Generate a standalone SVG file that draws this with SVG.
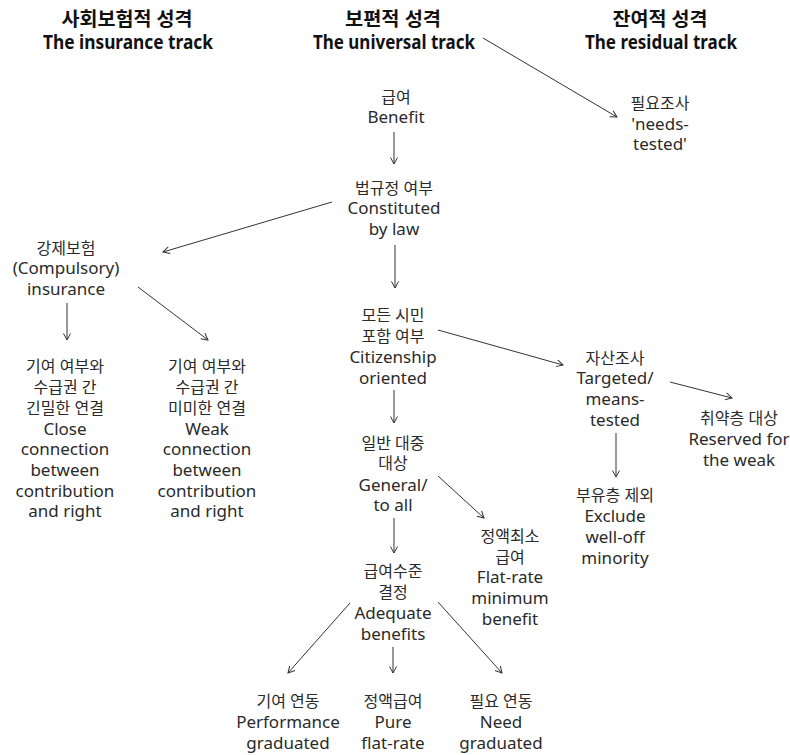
<svg xmlns="http://www.w3.org/2000/svg" width="790" height="755" viewBox="0 0 790 755">
<defs>
<marker id="ah" markerWidth="10" markerHeight="10" refX="7" refY="4" orient="auto" markerUnits="userSpaceOnUse">
<path d="M0.5,0.5 L7,4 L0.5,7.5" fill="none" stroke="#333" stroke-width="1"/>
</marker>
<style>
text{font-family:"Noto Sans","Noto Sans CJK KR",sans-serif;font-size:17px;fill:#2a2a2a;text-anchor:middle}
.k{font-size:16px}
.h{font-family:"Noto Sans","Noto Sans CJK KR",sans-serif;font-weight:bold;font-size:19px;fill:#111}
.c line{stroke:#333;stroke-width:1;marker-end:url(#ah)}
</style>
</defs>
<rect width="790" height="755" fill="#fff"/>
<g id="headers">
<text class="h" x="127" y="26" textLength="131" lengthAdjust="spacingAndGlyphs">사회보험적 성격</text>
<text class="h" x="128" y="49" textLength="170" lengthAdjust="spacingAndGlyphs">The insurance track</text>
<text class="h" x="393" y="26" textLength="96" lengthAdjust="spacingAndGlyphs">보편적 성격</text>
<text class="h" x="394" y="49" textLength="162" lengthAdjust="spacingAndGlyphs">The universal track</text>
<text class="h" x="660" y="26" textLength="95" lengthAdjust="spacingAndGlyphs">잔여적 성격</text>
<text class="h" x="661" y="49" textLength="152" lengthAdjust="spacingAndGlyphs">The residual track</text>
</g>
<g id="n-needs"><text x="660"><tspan class="k" x="660" y="109">필요조사</tspan><tspan x="660" y="130">'needs-</tspan><tspan x="660" y="150">tested'</tspan></text></g>
<g id="n-benefit"><text x="396"><tspan class="k" x="396" y="103">급여</tspan><tspan x="396" y="123">Benefit</tspan></text></g>
<g id="n-law"><text x="394"><tspan class="k" x="394" y="194">법규정 여부</tspan><tspan x="394" y="214">Constituted</tspan><tspan x="394" y="235">by law</tspan></text></g>
<g id="n-compulsory"><text x="66"><tspan class="k" x="66" y="254">강제보험</tspan><tspan x="66" y="274">(Compulsory)</tspan><tspan x="66" y="295">insurance</tspan></text></g>
<g id="n-close"><text x="65"><tspan class="k" x="65" y="372">기여 여부와</tspan><tspan class="k" x="65" y="393">수급권 간</tspan><tspan class="k" x="65" y="414">긴밀한 연결</tspan><tspan x="65" y="435">Close</tspan><tspan x="65" y="455">connection</tspan><tspan x="65" y="476">between</tspan><tspan x="65" y="497">contribution</tspan><tspan x="65" y="517">and right</tspan></text></g>
<g id="n-weak"><text x="207"><tspan class="k" x="207" y="372">기여 여부와</tspan><tspan class="k" x="207" y="393">수급권 간</tspan><tspan class="k" x="207" y="414">미미한 연결</tspan><tspan x="207" y="435">Weak</tspan><tspan x="207" y="455">connection</tspan><tspan x="207" y="476">between</tspan><tspan x="207" y="497">contribution</tspan><tspan x="207" y="517">and right</tspan></text></g>
<g id="n-citizen"><text x="393"><tspan class="k" x="393" y="321">모든 시민</tspan><tspan class="k" x="393" y="342">포함 여부</tspan><tspan x="393" y="363">Citizenship</tspan><tspan x="393" y="384">oriented</tspan></text></g>
<g id="n-general"><text x="393"><tspan class="k" x="393" y="449">일반 대중</tspan><tspan class="k" x="393" y="469">대상</tspan><tspan x="393" y="491">General/</tspan><tspan x="393" y="511">to all</tspan></text></g>
<g id="n-flatmin"><text x="510"><tspan class="k" x="510" y="542">정액최소</tspan><tspan class="k" x="510" y="563">급여</tspan><tspan x="510" y="583">Flat-rate</tspan><tspan x="510" y="604">minimum</tspan><tspan x="510" y="625">benefit</tspan></text></g>
<g id="n-adequate"><text x="393"><tspan class="k" x="393" y="577">급여수준</tspan><tspan class="k" x="393" y="598">결정</tspan><tspan x="393" y="619">Adequate</tspan><tspan x="393" y="640">benefits</tspan></text></g>
<g id="n-perf"><text x="288"><tspan class="k" x="288" y="707">기여 연동</tspan><tspan x="288" y="728">Performance</tspan><tspan x="288" y="749">graduated</tspan></text></g>
<g id="n-pure"><text x="393"><tspan class="k" x="393" y="707">정액급여</tspan><tspan x="393" y="728">Pure</tspan><tspan x="393" y="749">flat-rate</tspan></text></g>
<g id="n-need"><text x="501"><tspan class="k" x="501" y="707">필요 연동</tspan><tspan x="501" y="728">Need</tspan><tspan x="501" y="749">graduated</tspan></text></g>
<g id="n-targeted"><text x="615"><tspan class="k" x="615" y="364">자산조사</tspan><tspan x="615" y="384">Targeted/</tspan><tspan x="615" y="405">means-</tspan><tspan x="615" y="426">tested</tspan></text></g>
<g id="n-weak-reserved"><text x="739"><tspan class="k" x="739" y="424">취약층 대상</tspan><tspan x="739" y="445">Reserved for</tspan><tspan x="739" y="466">the weak</tspan></text></g>
<g id="n-exclude"><text x="615"><tspan class="k" x="615" y="501">부유층 제외</tspan><tspan x="615" y="522">Exclude</tspan><tspan x="615" y="543">well-off</tspan><tspan x="615" y="564">minority</tspan></text></g>
<g id="connectors" class="c">
<line x1="483" y1="38" x2="617" y2="117"/>
<line x1="394" y1="132" x2="394" y2="164"/>
<line x1="332" y1="202" x2="163" y2="252"/>
<line x1="395" y1="245" x2="395" y2="288"/>
<line x1="138" y1="287" x2="208" y2="340"/>
<line x1="67" y1="303" x2="67" y2="340"/>
<line x1="438" y1="330" x2="563" y2="365"/>
<line x1="670" y1="382" x2="732" y2="398"/>
<line x1="616" y1="433" x2="616" y2="477"/>
<line x1="394" y1="390" x2="394" y2="423"/>
<line x1="438" y1="476" x2="484" y2="518"/>
<line x1="394" y1="518" x2="394" y2="553"/>
<line x1="350" y1="603" x2="288" y2="673"/>
<line x1="393" y1="647" x2="393" y2="673"/>
<line x1="438" y1="602" x2="502" y2="673"/>
</g>
</svg>
